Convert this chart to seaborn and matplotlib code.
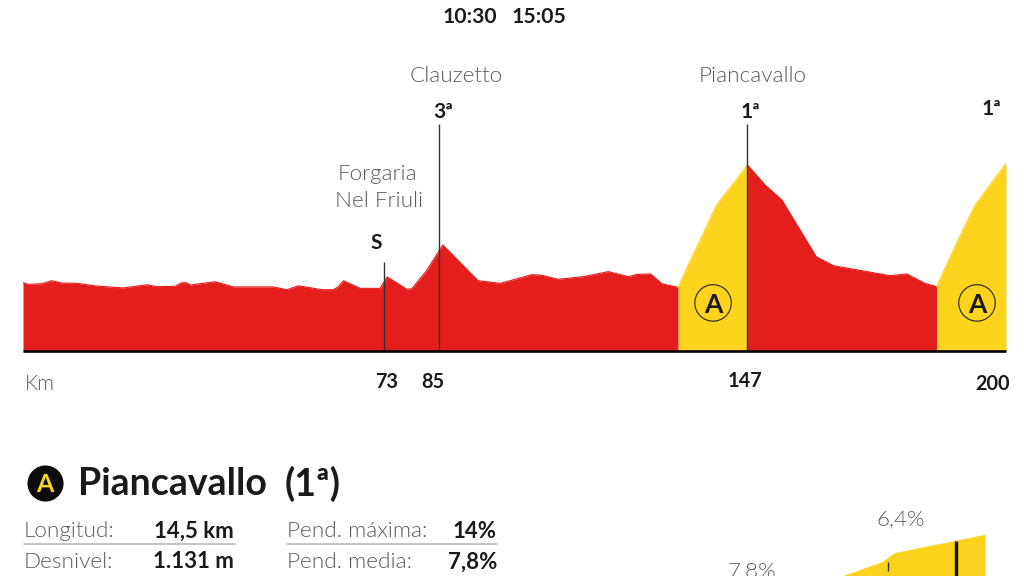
# perfil de etapa con detalle del puerto
import matplotlib
matplotlib.use('Agg')
import matplotlib.pyplot as plt
import seaborn as sns
import pandas as pd

# perfil en rojo (km, altitud), antes del primer puerto
km_llano = [0, 1.1, 3.8, 5.8, 7.9, 10.9, 15, 20.4, 25.2, 27.2, 30.9, 32.3, 33.3, 34, 39.1, 42.8, 50.9, 53.7,
            56, 60.8, 63.1, 64.1, 65.2, 68.6, 72.6, 74.1, 78.1, 79.1, 82.1, 85.4, 92.6, 97.1, 101.1, 103.5,
            105.5, 108.9, 114, 119.1, 123.2, 124.9, 127.7, 130, 133.3]
alt_llano = [473, 462, 466, 487, 471, 469, 450, 437, 459, 446, 448, 473, 473, 457, 480, 444, 444, 425,
             452, 425, 425, 444, 487, 434, 434, 513, 428, 432, 556, 735, 487, 469, 506, 529,
             525, 497, 515, 550, 515, 531, 534, 466, 441]
# subida a Piancavallo
km_subida1 = [133.3, 135, 138.1, 141.1, 143.8, 147.4]
alt_subida1 = [441, 573, 792, 1012, 1130, 1289]
# bajada
km_bajada = [147.4, 151, 154.4, 161.4, 164.9, 176.4, 179.8, 183.5, 185.9]
alt_bajada = [1289, 1150, 1046, 653, 591, 522, 534, 469, 446]
# subida final
km_subida2 = [185.9, 189.3, 193.7, 200]
alt_subida2 = [446, 700, 1012, 1300]

# lineas verticales de los puntos de paso
km_marcas = [73.4, 84.6, 147.3]
alt_marcas = [617, 1573, 1573]
km_circulos = [140.4, 194.1]
alt_circulos = [333, 333]

# tramo final del detalle del puerto
km_detalle = [12.14, 12.8, 13, 14.5]
alt_detalle = [1073, 1147, 1194, 1290]

horarios = ['10:30', '15:05']
etiquetas_km = ['73', '85', '147', '200']

ROJO = '#e41e1c'
AMARILLO = '#fed31e'
NEGRO = '#1a1a1a'
GRIS = '#5a5a5a'
FUENTE = 'Lato'

sns.set_theme(style='white')
plt.rcParams['font.family'] = [FUENTE, 'DejaVu Sans']

fig = plt.figure(figsize=(10.24, 5.76), dpi=100)


def caja(x0, y_sup, x1, y_inf):
    # caja de ejes a partir de pixeles de la imagen
    return [x0 / 1024, 1 - y_inf / 576, (x1 - x0) / 1024, (y_inf - y_sup) / 576]


# perfil principal
ax = fig.add_axes(caja(23, 0, 1006, 351))
ax.set_xlim(0, 200)
ax.set_ylim(0, 2432)
tramos = [(km_llano, alt_llano, ROJO), (km_subida1, alt_subida1, AMARILLO),
          (km_bajada, alt_bajada, ROJO), (km_subida2, alt_subida2, AMARILLO)]
for xs, ys, color in tramos:
    datos = pd.DataFrame({'km': xs, 'alt': ys})
    ax.fill_between(datos['km'], 0, datos['alt'], color=color, lw=0)
    sns.lineplot(data=datos, x='km', y='alt', color=color, lw=0.8, ax=ax, estimator=None, sort=False)
ax.axis('off')
ax.vlines(km_marcas, 0, alt_marcas, color='#333333', lw=1.0, zorder=4)
ax.plot([0, 200], [0, 0], color='black', lw=1.9, zorder=5, clip_on=False, solid_capstyle='butt')
ax.scatter(km_circulos, alt_circulos, s=690, facecolor='none', edgecolor='#3a3413', lw=0.9, zorder=4)

# detalle del puerto, cortado por el borde inferior
ax2 = fig.add_axes(caja(841.7, 534.3, 985, 576))
ax2.set_xlim(12.14, 14.5)
ax2.set_ylim(1073, 1290)
ax2.axis('off')
ax2.fill_between(km_detalle, 1073, alt_detalle, color=AMARILLO, lw=0)
ax2.vlines([14.02], 1073, [1256], color='#111111', lw=2.4)
ax2.vlines([12.9], [1097], [1144], color='#333333', lw=1.0)

# capa de textos en pixeles
tx = fig.add_axes([0, 0, 1, 1], facecolor='none')
tx.set_xlim(0, 1024)
tx.set_ylim(576, 0)
tx.axis('off')


def bold(x, y, s, size=12, ha='center', color=NEGRO):
    tx.text(x, y + 2, s, fontsize=size, fontweight='bold', color=color, ha=ha, va='center')


def fino(x, y, s, size=16.2, ha='center', color=GRIS):
    tx.text(x, y + 2, s, fontsize=size, fontweight=300, color=color, ha=ha, va='center')


bold(470, 15, horarios[0], 15.2)
bold(539.5, 15, horarios[1], 15.2)
fino(456, 74, 'Clauzetto')
fino(753, 74, 'Piancavallo')
fino(377, 172, 'Forgaria')
fino(379.5, 199, 'Nel Friuli')
bold(376, 241, 'S', 15)
bold(443.5, 110, '3ª', 15)
bold(750, 110, '1ª', 15)
bold(991, 107, '1ª', 15)
bold(713, 303, 'A', 19)
bold(977, 303, 'A', 19)

fino(40, 382, 'Km', 15)
bold(387, 380, etiquetas_km[0], 14.3)
bold(433, 380, etiquetas_km[1], 14.3)
bold(745, 379, etiquetas_km[2], 14.3)
bold(993, 382, etiquetas_km[3], 14.3)

# cabecera del puerto
tx.scatter([45], [483], s=675, color='#0c0c0c', lw=0)
bold(45, 482, 'A', 18, color=AMARILLO)
bold(78, 482, 'Piancavallo', 27, ha='left')
bold(285, 482, '(1ª)', 27, ha='left')

# tabla de datos
fino(24, 529, 'Longitud:', ha='left')
bold(234, 529, '14,5 km', 16, ha='right')
fino(24, 560, 'Desnivel:', ha='left')
bold(234, 560, '1.131 m', 16, ha='right')
fino(287, 529, 'Pend. máxima:', ha='left')
bold(497, 529, '14%', 16, ha='right')
fino(287, 560, 'Pend. media:', ha='left')
bold(497, 560, '7,8%', 16, ha='right')
tx.plot([24, 235], [544, 544], color='#b5b5b5', lw=1.1)
tx.plot([287, 497], [544, 544], color='#b5b5b5', lw=1.1)

fino(901, 517, '6,4%')
fino(752, 569, '7,8%')

fig.savefig('out.png', dpi=100, facecolor='white')
